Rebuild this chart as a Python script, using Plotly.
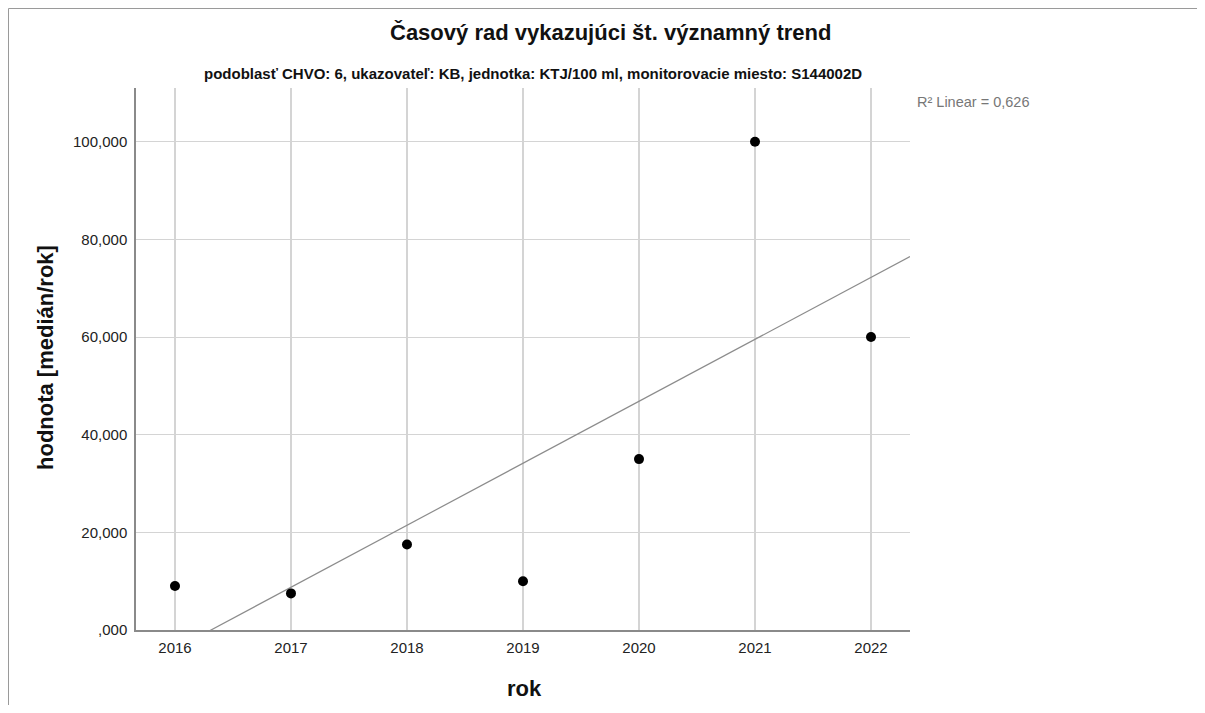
import numpy as np
import plotly.graph_objects as go

years = [2016, 2017, 2018, 2019, 2020, 2021, 2022]
values = [9.0, 7.5, 17.5, 10.0, 35.0, 100.0, 60.0]
y_ticks = [0, 20, 40, 60, 80, 100]


def fmt(v):
    s = f"{v:.3f}".replace(".", ",")
    return s[1:] if s.startswith("0,") else s


y_ticklabels = [fmt(v) for v in y_ticks]

title = "Časový rad vykazujúci št. významný trend"
subtitle = "podoblasť CHVO: 6, ukazovateľ: KB, jednotka: KTJ/100 ml, monitorovacie miesto: S144002D"

x_range = [2015.664, 2022.336]
y_range = [0, 111.0]

# linear fit
xa = np.array(years, dtype=float)
ya = np.array(values, dtype=float)
slope, intercept = np.polyfit(xa, ya, 1)
pred = slope * xa + intercept
r2 = 1 - np.sum((ya - pred) ** 2) / np.sum((ya - ya.mean()) ** 2)
fit_x = np.array(x_range)
fit_y = slope * fit_x + intercept

FONT = "Liberation Sans, Arial, sans-serif"

fig = go.Figure()
fig.add_trace(go.Scatter(x=fit_x, y=fit_y, mode="lines",
                         line=dict(color="#8c8c8c", width=1.2), hoverinfo="skip",
                         showlegend=False))
fig.add_trace(go.Scatter(x=years, y=values, mode="markers",
                         marker=dict(color="black", size=10, line=dict(width=0)),
                         showlegend=False, cliponaxis=False))

# page is offset by 8px body margin; work in screen coords and subtract OFF
OFF = 8
W, H = 1189, 697
L = 136 - OFF
T = 88 - OFF
R = W - (910 - OFF)
B = H - (630 - OFF)
pw, ph = W - L - R, H - T - B


def px_x(p):
    return (p - OFF - L) / pw


def px_y(p):
    return (H - B - (p - OFF)) / ph


fig.update_layout(
    width=W, height=H,
    margin=dict(l=L, r=R, t=T, b=B, autoexpand=False),
    paper_bgcolor="white", plot_bgcolor="white",
    font=dict(family=FONT, color="#222222"),
    xaxis=dict(range=x_range, tickvals=years, ticktext=[str(y) for y in years],
               showgrid=True, gridcolor="#d4d4d4", gridwidth=1.5,
               showline=True, linecolor="#8a8a8a", linewidth=1.5,
               ticks="", tickfont=dict(size=15, color="#222222"),
               ticklabelstandoff=3, zeroline=False, fixedrange=True),
    yaxis=dict(range=y_range, tickvals=y_ticks, ticktext=y_ticklabels,
               showgrid=True, gridcolor="#d4d4d4", gridwidth=1.2,
               showline=True, linecolor="#8a8a8a", linewidth=1.5,
               ticks="", tickfont=dict(size=15, color="#222222"),
               ticklabelstandoff=4, zeroline=False, fixedrange=True),
    shapes=[dict(type="rect", xref="paper", yref="paper",
                 x0=px_x(8.5), x1=px_x(1230), y0=px_y(740), y1=px_y(8.5),
                 line=dict(color="#9a9a9a", width=1), fillcolor="rgba(0,0,0,0)",
                 layer="below")],
    annotations=[
        dict(text="<b>" + title + "</b>", xref="paper", yref="paper", x=px_x(610), y=px_y(33),
             showarrow=False, font=dict(size=22, color="#111111"),
             xanchor="center", yanchor="middle"),
        dict(text="<b>" + subtitle + "</b>", xref="paper", yref="paper",
             x=px_x(533), y=px_y(73), showarrow=False,
             font=dict(size=15, color="#111111"), xanchor="center", yanchor="middle"),
        dict(text="R² Linear = " + f"{r2:.3f}".replace(".", ","), xref="paper", yref="paper",
             x=px_x(915), y=px_y(102), showarrow=False,
             font=dict(size=14.5, color="#777777"), xanchor="left", yanchor="middle"),
        dict(text="<b>hodnota [medián/rok]</b>", xref="paper", yref="paper",
             x=px_x(45), y=px_y(358), showarrow=False, textangle=-90,
             font=dict(size=22, color="#111111"), xanchor="center", yanchor="middle"),
        dict(text="<b>rok</b>", xref="paper", yref="paper",
             x=px_x(524), y=px_y(688), showarrow=False,
             font=dict(size=22, color="#111111"), xanchor="center", yanchor="middle"),
    ],
)

fig.write_html("out.html")
